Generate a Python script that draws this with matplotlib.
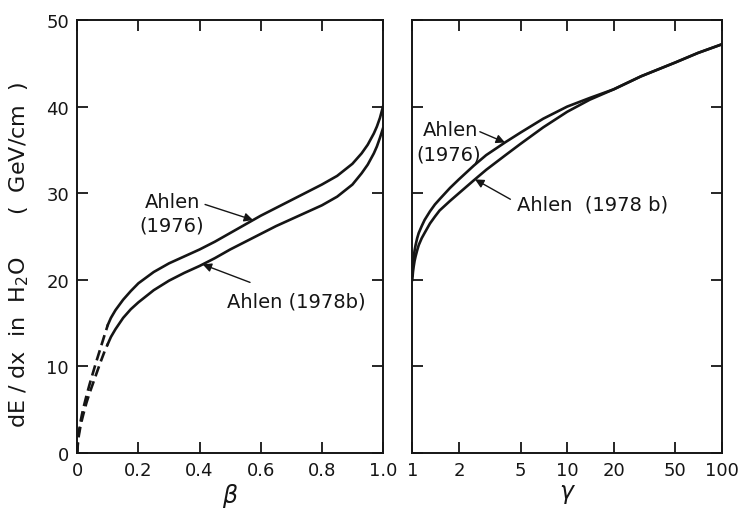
import numpy as np
import matplotlib
matplotlib.use("Agg")
from matplotlib import pyplot as plt
from matplotlib.ticker import FixedLocator, NullLocator, FixedFormatter

# energy loss in water vs beta (left) and gamma (right)
beta = [0, 0.002, 0.005, 0.01, 0.015, 0.02, 0.03, 0.04, 0.05, 0.06, 0.075, 0.09,
        0.1, 0.11, 0.125, 0.15, 0.175, 0.2, 0.25, 0.3, 0.35, 0.4, 0.45, 0.5,
        0.55, 0.6, 0.65, 0.7, 0.75, 0.8, 0.85, 0.9, 0.93, 0.95, 0.97, 0.98,
        0.99, 1.0]
ahlen76_beta = [0, 1.4, 2.4, 3.5, 4.4, 5.2, 6.6, 7.9, 9.1, 10.3, 12.0, 13.7,
                14.8, 15.6, 16.5, 17.7, 18.7, 19.6, 20.9, 21.9, 22.7, 23.5, 24.4, 25.4,
                26.4, 27.4, 28.3, 29.2, 30.1, 31.0, 32.0, 33.4, 34.6, 35.6, 36.9, 37.7,
                38.7, 40.0]
ahlen78_beta = [0, 1.1, 2.0, 3.0, 3.8, 4.5, 5.8, 6.9, 7.9, 8.9, 10.4, 11.8,
                12.6, 13.4, 14.3, 15.6, 16.6, 17.4, 18.8, 19.9, 20.8, 21.6, 22.5, 23.5,
                24.4, 25.3, 26.2, 27.0, 27.8, 28.6, 29.6, 31.0, 32.3, 33.3, 34.6, 35.4,
                36.4, 37.5]
beta_dashed_end = 0.1

gamma = [1.0, 1.01, 1.02, 1.035, 1.05, 1.075, 1.1, 1.15, 1.2, 1.3, 1.4, 1.5,
         1.75, 2, 2.5, 3, 4, 5, 7, 10, 14, 20, 30, 50, 70, 100]
ahlen76_gamma = [20.5, 21.8, 22.6, 23.4, 24.0, 24.8, 25.4, 26.2, 26.9, 27.9, 28.7, 29.3,
                 30.6, 31.6, 33.2, 34.4, 35.9, 37.0, 38.6, 40.0, 41.0, 42.0, 43.5, 45.1,
                 46.2, 47.2]
ahlen78_gamma = [20.0, 20.9, 21.5, 22.2, 22.7, 23.4, 24.0, 24.8, 25.4, 26.5, 27.3, 28.0,
                 29.1, 30.0, 31.5, 32.7, 34.4, 35.7, 37.6, 39.4, 40.8, 42.0, 43.5, 45.1,
                 46.2, 47.2]

beta_ticks = [0, 0.2, 0.4, 0.6, 0.8, 1.0]
beta_ticklabels = ["0", "0.2", "0.4", "0.6", "0.8", "1.0"]
gamma_ticks = [1, 2, 5, 10, 20, 50, 100]
gamma_ticklabels = ["1", "2", "5", "10", "20", "50", "100"]
y_ticks = [0, 10, 20, 30, 40, 50]

ink = "#151515"
plt.rcParams["font.family"] = ["DejaVu Sans"]

fig = plt.figure(figsize=(7.51, 5.10), dpi=100)
ax1 = fig.add_axes([0.1029, 0.1098, 0.4071, 0.849])
ax2 = fig.add_axes([0.549, 0.1098, 0.4124, 0.849])


def style_axes(ax):
    for s in ax.spines.values():
        s.set_linewidth(1.4)
        s.set_color(ink)
    ax.tick_params(direction="in", length=8, width=1.3, top=True, right=True,
                   labelsize=13, colors=ink, pad=6)
    ax.set_ylim(0, 50)
    ax.yaxis.set_major_locator(FixedLocator(y_ticks))


# left panel: dashed below beta = 0.1, solid above
b = np.array(beta)
lo = b <= beta_dashed_end
hi = b >= beta_dashed_end
for vals in (ahlen76_beta, ahlen78_beta):
    v = np.array(vals)
    ax1.plot(b[lo], v[lo], color=ink, lw=1.9, ls=(0, (4, 2)))
    ax1.plot(b[hi], v[hi], color=ink, lw=1.9)

style_axes(ax1)
ax1.set_xlim(0, 1.0)
ax1.xaxis.set_major_locator(FixedLocator(beta_ticks))
ax1.xaxis.set_major_formatter(FixedFormatter(beta_ticklabels))
ax1.set_xlabel(r"$\beta$", fontsize=17, color=ink, labelpad=1)

arrow = dict(arrowstyle="-|>", color=ink, lw=1.0, mutation_scale=13, shrinkA=0, shrinkB=0)
lab = dict(fontsize=14, color=ink)
ax1.text(0.31, 29.1, "Ahlen", ha="center", va="center", **lab)
ax1.text(0.31, 26.3, "(1976)", ha="center", va="center", **lab)
ax1.annotate("", xy=(0.575, np.interp(0.575, beta, ahlen76_beta)),
             xytext=(0.418, 28.7), arrowprops=arrow)
ax1.text(0.49, 17.6, "Ahlen (1978b)", ha="left", va="center", **lab)
ax1.annotate("", xy=(0.41, np.interp(0.41, beta, ahlen78_beta)),
             xytext=(0.565, 19.7), arrowprops=arrow)

# right panel: log gamma axis
ax2.plot(gamma, ahlen76_gamma, color=ink, lw=1.9)
ax2.plot(gamma, ahlen78_gamma, color=ink, lw=1.9)
ax2.set_xscale("log")
style_axes(ax2)
ax2.set_xlim(1, 100)
ax2.xaxis.set_major_locator(FixedLocator(gamma_ticks))
ax2.xaxis.set_major_formatter(FixedFormatter(gamma_ticklabels))
ax2.xaxis.set_minor_locator(NullLocator())
ax2.set_yticklabels([])
ax2.set_xlabel(r"$\gamma$", fontsize=17, color=ink, labelpad=1)

ax2.text(1.17, 37.4, "Ahlen", ha="left", va="center", **lab)
ax2.text(1.06, 34.5, "(1976)", ha="left", va="center", **lab)
ax2.annotate("", xy=(3.97, np.interp(3.97, gamma, ahlen76_gamma)),
             xytext=(2.73, 37.1), arrowprops=arrow)
ax2.text(4.75, 28.7, "Ahlen  (1978 b)", ha="left", va="center", **lab)
ax2.annotate("", xy=(2.54, np.interp(2.54, gamma, ahlen78_gamma)),
             xytext=(4.3, 29.3), arrowprops=arrow)

fig.text(0.026, 0.50, r"dE / dx  in  H$_2$O      (  GeV/cm  )", rotation=90,
         fontsize=16, color=ink, ha="center", va="center")

fig.savefig("out.png", dpi=100, facecolor="white")
